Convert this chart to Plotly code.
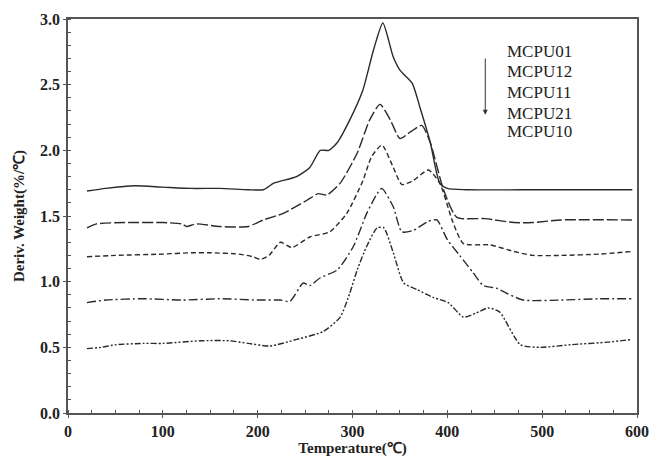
import plotly.graph_objects as go

names = ["MCPU01", "MCPU12", "MCPU11", "MCPU21", "MCPU10"]

x_01 = [20, 40, 70, 100, 130, 160, 190, 206, 217, 241, 255, 266, 275, 284, 297, 311, 322, 332, 343, 350, 363, 371, 382, 392, 400, 420, 500, 595]
y_01 = [1.69, 1.71, 1.73, 1.72, 1.71, 1.71, 1.70, 1.70, 1.75, 1.80, 1.87, 2.00, 2.00, 2.06, 2.23, 2.46, 2.76, 2.97, 2.71, 2.61, 2.51, 2.33, 2.06, 1.75, 1.71, 1.70, 1.70, 1.70]

x_12 = [20, 30, 60, 100, 120, 125, 135, 160, 190, 200, 206, 227, 252, 264, 273, 287, 305, 318, 329, 340, 350, 361, 373, 382, 396, 410, 440, 470, 490, 520, 595]
y_12 = [1.41, 1.44, 1.45, 1.45, 1.44, 1.42, 1.44, 1.42, 1.42, 1.45, 1.47, 1.52, 1.62, 1.67, 1.66, 1.75, 1.98, 2.23, 2.35, 2.23, 2.09, 2.14, 2.19, 2.06, 1.70, 1.49, 1.48, 1.45, 1.45, 1.47, 1.47]

x_11 = [20, 50, 100, 130, 150, 180, 195, 203, 212, 224, 236, 255, 276, 294, 311, 320, 331, 343, 352, 364, 380, 392, 406, 417, 445, 470, 490, 520, 560, 595]
y_11 = [1.19, 1.20, 1.21, 1.22, 1.22, 1.21, 1.19, 1.17, 1.20, 1.30, 1.26, 1.34, 1.38, 1.52, 1.77, 1.95, 2.04, 1.87, 1.74, 1.77, 1.85, 1.75, 1.45, 1.29, 1.28, 1.23, 1.20, 1.20, 1.21, 1.23]

x_21 = [20, 40, 80, 120, 160, 200, 224, 234, 248, 255, 266, 284, 301, 315, 326, 331, 343, 352, 364, 380, 389, 400, 413, 427, 438, 452, 463, 480, 520, 560, 595]
y_21 = [0.84, 0.86, 0.87, 0.86, 0.87, 0.86, 0.86, 0.85, 0.99, 0.97, 1.03, 1.09, 1.27, 1.52, 1.67, 1.71, 1.57, 1.38, 1.39, 1.46, 1.47, 1.32, 1.20, 1.07, 0.97, 0.95, 0.91, 0.86, 0.86, 0.87, 0.87]

x_10 = [20, 35, 50, 80, 100, 140, 170, 190, 213, 241, 269, 287, 297, 305, 315, 326, 333, 343, 354, 368, 385, 401, 417, 430, 443, 455, 477, 498, 530, 570, 595]
y_10 = [0.49, 0.50, 0.52, 0.53, 0.53, 0.55, 0.55, 0.53, 0.51, 0.56, 0.62, 0.73, 0.91, 1.09, 1.27, 1.41, 1.41, 1.22, 0.99, 0.94, 0.88, 0.84, 0.73, 0.76, 0.80, 0.77, 0.52, 0.50, 0.52, 0.54, 0.56]

xs = [x_01, x_12, x_11, x_21, x_10]
ys = [y_01, y_12, y_11, y_21, y_10]
dashes = ["solid", "11px,3px", "5px,3px", "9px,3px,2px,3px", "6px,2px,2px,2px,2px,2px"]

fig = go.Figure()
for n, xv, yv, d in zip(names, xs, ys, dashes):
    fig.add_trace(go.Scatter(x=xv, y=yv, mode="lines", name=n,
                             line=dict(color="#2a2a2a", width=1.4, dash=d, shape="spline", smoothing=0.6)))

serif = "Liberation Serif, Times New Roman, serif"
ink = "#222222"

legend_y = [2.75, 2.60, 2.44, 2.28, 2.14]
for n, yy in zip(names, legend_y):
    fig.add_annotation(x=461, y=yy, xref="x", yref="y", text=n, showarrow=False,
                       xanchor="left", yanchor="middle",
                       font=dict(family=serif, size=17, color=ink))

fig.add_annotation(x=440, y=2.27, ax=440, ay=2.71, xref="x", yref="y", axref="x", ayref="y",
                   text="", showarrow=True, arrowhead=2, arrowsize=1, arrowwidth=1, arrowcolor="#333333")

axis_common = dict(showline=True, linecolor="#555555", linewidth=1.5, mirror=True,
                   showgrid=False, zeroline=False, ticks="outside", ticklen=3,
                   tickcolor="#555555", automargin=False,
                   tickfont=dict(family=serif, size=16, color=ink, weight="bold"))

fig.update_xaxes(range=[0, 600], dtick=100, tick0=0,
                 title=dict(text="Temperature(℃)", font=dict(family=serif, size=15, color=ink, weight="bold"), standoff=0),
                 minor=dict(dtick=25, ticks="inside", ticklen=3, tickcolor="#555555"),
                 **axis_common)
fig.update_yaxes(range=[0, 3.0], dtick=0.5, tick0=0, tickformat=".1f",
                 title=dict(text="Deriv. Weight(%/℃)", font=dict(family=serif, size=15, color=ink, weight="bold"), standoff=12),
                 minor=dict(dtick=0.1, ticks="inside", ticklen=3, tickcolor="#555555"),
                 **axis_common)

fig.update_layout(width=653, height=457, margin=dict(l=68, r=16, t=19, b=44),
                  paper_bgcolor="white", plot_bgcolor="white", showlegend=False)

fig.write_html("out.html")
